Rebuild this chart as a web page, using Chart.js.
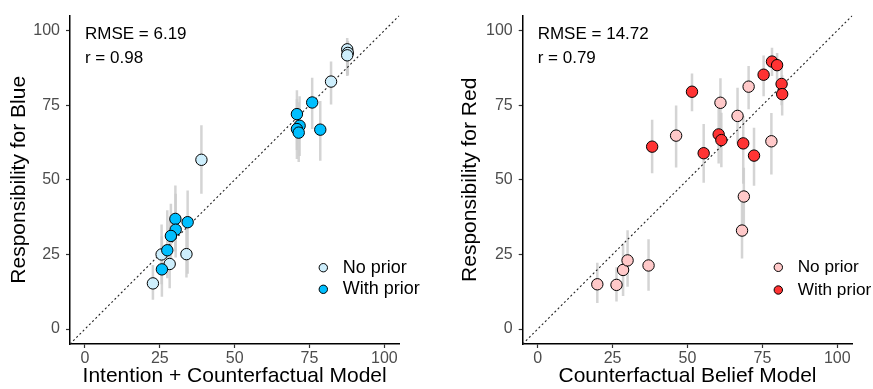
<!DOCTYPE html>
<html>
<head>
<meta charset="utf-8">
<script src="https://cdn.jsdelivr.net/npm/chart.js@4/dist/chart.umd.min.js"></script>
<style>
html,body{margin:0;padding:0;background:#fff;}
#wrap{position:relative;width:873px;height:389px;}
canvas{position:absolute;top:0;}
</style>
</head>
<body>
<div id="wrap">
<canvas id="c1" width="436" height="389" style="left:0"></canvas>
<canvas id="c2" width="437" height="389" style="left:436px"></canvas>
</div>
<script>
// ---------- data ----------
const tickValues = [0, 25, 50, 75, 100];
const groupLabels = ["No prior", "With prior"];

// Left panel: Blue
const blueNoX  = [38.9, 87.6, 87.8, 87.6, 82.2, 25.6, 33.9, 28.3, 22.7];
const blueNoY  = [56.7, 93.7, 92.5, 91.7, 82.9, 25.0, 25.1, 21.8, 15.3];
const blueNoLo = [45.3, 84.8, 85.0, 85.5, 75.2, 15.0, 17.3, 13.7, 9.8];
const blueNoHi = [68.3, 97.5, 96.5, 96.0, 89.6, 35.0, 37.0, 36.4, 21.5];

const blueWithX  = [75.9, 70.8, 71.7, 70.8, 71.4, 78.6, 30.2, 34.3, 30.3, 28.7, 27.5, 25.7];
const blueWithY  = [75.9, 72.0, 68.1, 67.0, 65.8, 66.8, 36.9, 35.8, 33.3, 31.2, 26.4, 20.0];
const blueWithLo = [67.0, 60.0, 58.0, 57.0, 56.0, 56.4, 26.0, 18.5, 24.0, 22.0, 17.0, 10.8];
const blueWithHi = [84.2, 80.0, 78.0, 77.0, 76.0, 76.4, 48.1, 46.4, 45.3, 42.0, 39.8, 31.0];

// Right panel: Red
const redNoX  = [46.2, 61.0, 66.7, 70.4, 78.0, 68.8, 68.2, 19.9, 26.3, 28.5, 30.0, 37.0];
const redNoY  = [64.8, 75.8, 71.4, 81.2, 62.9, 44.4, 33.0, 15.0, 14.8, 19.8, 23.0, 21.3];
const redNoLo = [54.1, 66.0, 62.0, 73.6, 51.8, 34.5, 23.6, 8.7, 9.2, 11.1, 14.2, 12.8];
const redNoHi = [74.9, 84.0, 80.8, 88.1, 72.4, 54.0, 42.5, 22.2, 20.7, 28.7, 33.1, 30.1];

const redWithX  = [38.2, 51.5, 55.4, 60.4, 61.3, 68.6, 72.2, 75.4, 78.2, 79.9, 81.4, 81.6];
const redWithY  = [61.1, 79.5, 58.9, 65.2, 63.3, 62.2, 58.1, 85.2, 89.6, 88.4, 82.1, 78.7];
const redWithLo = [52.2, 73.0, 49.0, 55.5, 54.2, 48.7, 48.0, 78.0, 84.8, 83.5, 75.0, 71.5];
const redWithHi = [70.1, 85.6, 68.7, 74.0, 72.5, 71.4, 67.4, 91.6, 94.2, 92.5, 88.0, 85.0];

const statsBlue = ["RMSE = 6.19", "r = 0.98"];
const statsRed  = ["RMSE = 14.72", "r = 0.79"];
const identityLine = [-5, 105];

// ---------- helpers ----------
const FONT = "'Liberation Sans', Arial, Helvetica, sans-serif";
const pts = (xs, ys) => xs.map((x, i) => ({x: x, y: ys[i]}));

const errorBarPlugin = {
  id: 'errbars',
  beforeDatasetsDraw(chart) {
    const {ctx, chartArea, scales: {x, y}} = chart;
    ctx.save();
    ctx.beginPath();
    ctx.rect(chartArea.left, chartArea.top, chartArea.right - chartArea.left, chartArea.bottom - chartArea.top);
    ctx.clip();
    ctx.strokeStyle = 'rgba(205,205,205,0.85)';
    ctx.lineWidth = 2.5;
    chart.data.datasets.forEach(ds => {
      if (!ds.errLo) return;
      ds.data.forEach((p, i) => {
        const px = x.getPixelForValue(p.x);
        ctx.beginPath();
        ctx.moveTo(px, y.getPixelForValue(ds.errLo[i]));
        ctx.lineTo(px, y.getPixelForValue(ds.errHi[i]));
        ctx.stroke();
      });
    });
    ctx.restore();
  }
};

const overlayPlugin = {
  id: 'overlay',
  afterDraw(chart, args, opts) {
    const {ctx, scales: {x, y}} = chart;
    ctx.save();
    // stats text
    ctx.fillStyle = '#000';
    ctx.font = '17px ' + FONT;
    ctx.textAlign = 'left';
    ctx.textBaseline = 'middle';
    ctx.fillText(opts.stats[0], x.getPixelForValue(0), y.getPixelForValue(98.8));
    ctx.fillText(opts.stats[1], x.getPixelForValue(0), y.getPixelForValue(90.8));
    // legend
    ctx.font = opts.legFont + 'px ' + FONT;
    opts.colors.forEach((c, i) => {
      const cy = opts.legY[i];
      ctx.beginPath();
      ctx.arc(opts.legX, cy, 4.2, 0, Math.PI * 2);
      ctx.fillStyle = c;
      ctx.fill();
      ctx.lineWidth = 1;
      ctx.strokeStyle = '#000';
      ctx.stroke();
      ctx.fillStyle = '#000';
      ctx.fillText(groupLabels[i], opts.legX + 19.4, cy);
    });
    ctx.restore();
  }
};

function makeChart(id, cfg) {
  return new Chart(document.getElementById(id), {
    type: 'scatter',
    data: {
      datasets: [
        {
          type: 'line',
          data: pts(identityLine, identityLine),
          borderColor: '#222',
          borderWidth: 1.1,
          borderDash: [2, 2.5],
          pointRadius: 0,
          fill: false,
          order: 3
        },
        {
          label: groupLabels[0],
          data: pts(cfg.noX, cfg.noY),
          errLo: cfg.noLo, errHi: cfg.noHi,
          backgroundColor: cfg.colors[0],
          borderColor: '#000',
          borderWidth: 1,
          pointRadius: 5.7,
          order: 2
        },
        {
          label: groupLabels[1],
          data: pts(cfg.withX, cfg.withY),
          errLo: cfg.withLo, errHi: cfg.withHi,
          backgroundColor: cfg.colors[1],
          borderColor: '#000',
          borderWidth: 1,
          pointRadius: 5.7,
          order: 1
        }
      ]
    },
    options: {
      responsive: false,
      animation: false,
      events: [],
      layout: {padding: {top: 15, right: cfg.padRight, left: 0, bottom: 0}},
      plugins: {
        legend: {display: false},
        tooltip: {enabled: false},
        overlay: {stats: cfg.stats, colors: cfg.colors, legX: cfg.legX, legY: cfg.legY, legFont: cfg.legFont}
      },
      scales: {
        x: {
          type: 'linear', min: -5, max: 105,
          afterBuildTicks: s => { s.ticks = tickValues.map(v => ({value: v})); },
          afterFit: s => { s.height = 45; },
          grid: {drawOnChartArea: false, tickLength: 4, color: '#333', tickWidth: 1.2},
          border: {display: true, color: '#000', width: 1.5},
          ticks: {color: '#4d4d4d', font: {size: 16, family: FONT}, padding: 1, maxRotation: 0},
          title: {display: true, text: cfg.xTitle, color: '#000', font: {size: 21, family: FONT}, padding: {top: 0, bottom: 0}}
        },
        y: {
          type: 'linear', min: -5, max: 105,
          afterBuildTicks: s => { s.ticks = tickValues.map(v => ({value: v})); },
          afterFit: s => { s.width = cfg.yWidth; },
          grid: {drawOnChartArea: false, tickLength: 4, color: '#333', tickWidth: 1.2},
          border: {display: true, color: '#000', width: 1.5},
          ticks: {color: '#4d4d4d', font: {size: 16, family: FONT}, padding: 6},
          title: {display: true, text: cfg.yTitle, color: '#000', font: {size: 21, family: FONT}, padding: {top: cfg.yTitlePad, bottom: 0}}
        }
      }
    },
    plugins: [errorBarPlugin, overlayPlugin]
  });
}

makeChart('c1', {
  noX: blueNoX, noY: blueNoY, noLo: blueNoLo, noHi: blueNoHi,
  withX: blueWithX, withY: blueWithY, withLo: blueWithLo, withHi: blueWithHi,
  colors: ['#cdeefc', '#00bfff'],
  stats: statsBlue,
  xTitle: 'Intention + Counterfactual Model',
  yTitle: 'Responsibility for Blue',
  yWidth: 70, padRight: 36.7, yTitlePad: 6.4,
  legX: 323.3, legY: [267.7, 289.3], legFont: 18
});

makeChart('c2', {
  noX: redNoX, noY: redNoY, noLo: redNoLo, noHi: redNoHi,
  withX: redWithX, withY: redWithY, withLo: redWithLo, withHi: redWithHi,
  colors: ['#ffc9c9', '#ff3333'],
  stats: statsRed,
  xTitle: 'Counterfactual Belief Model',
  yTitle: 'Responsibility for Red',
  yWidth: 86.7, padRight: 20.7, yTitlePad: 21.4,
  legX: 342.3, legY: [267.3, 290], legFont: 17.2
});
</script>
</body>
</html>
